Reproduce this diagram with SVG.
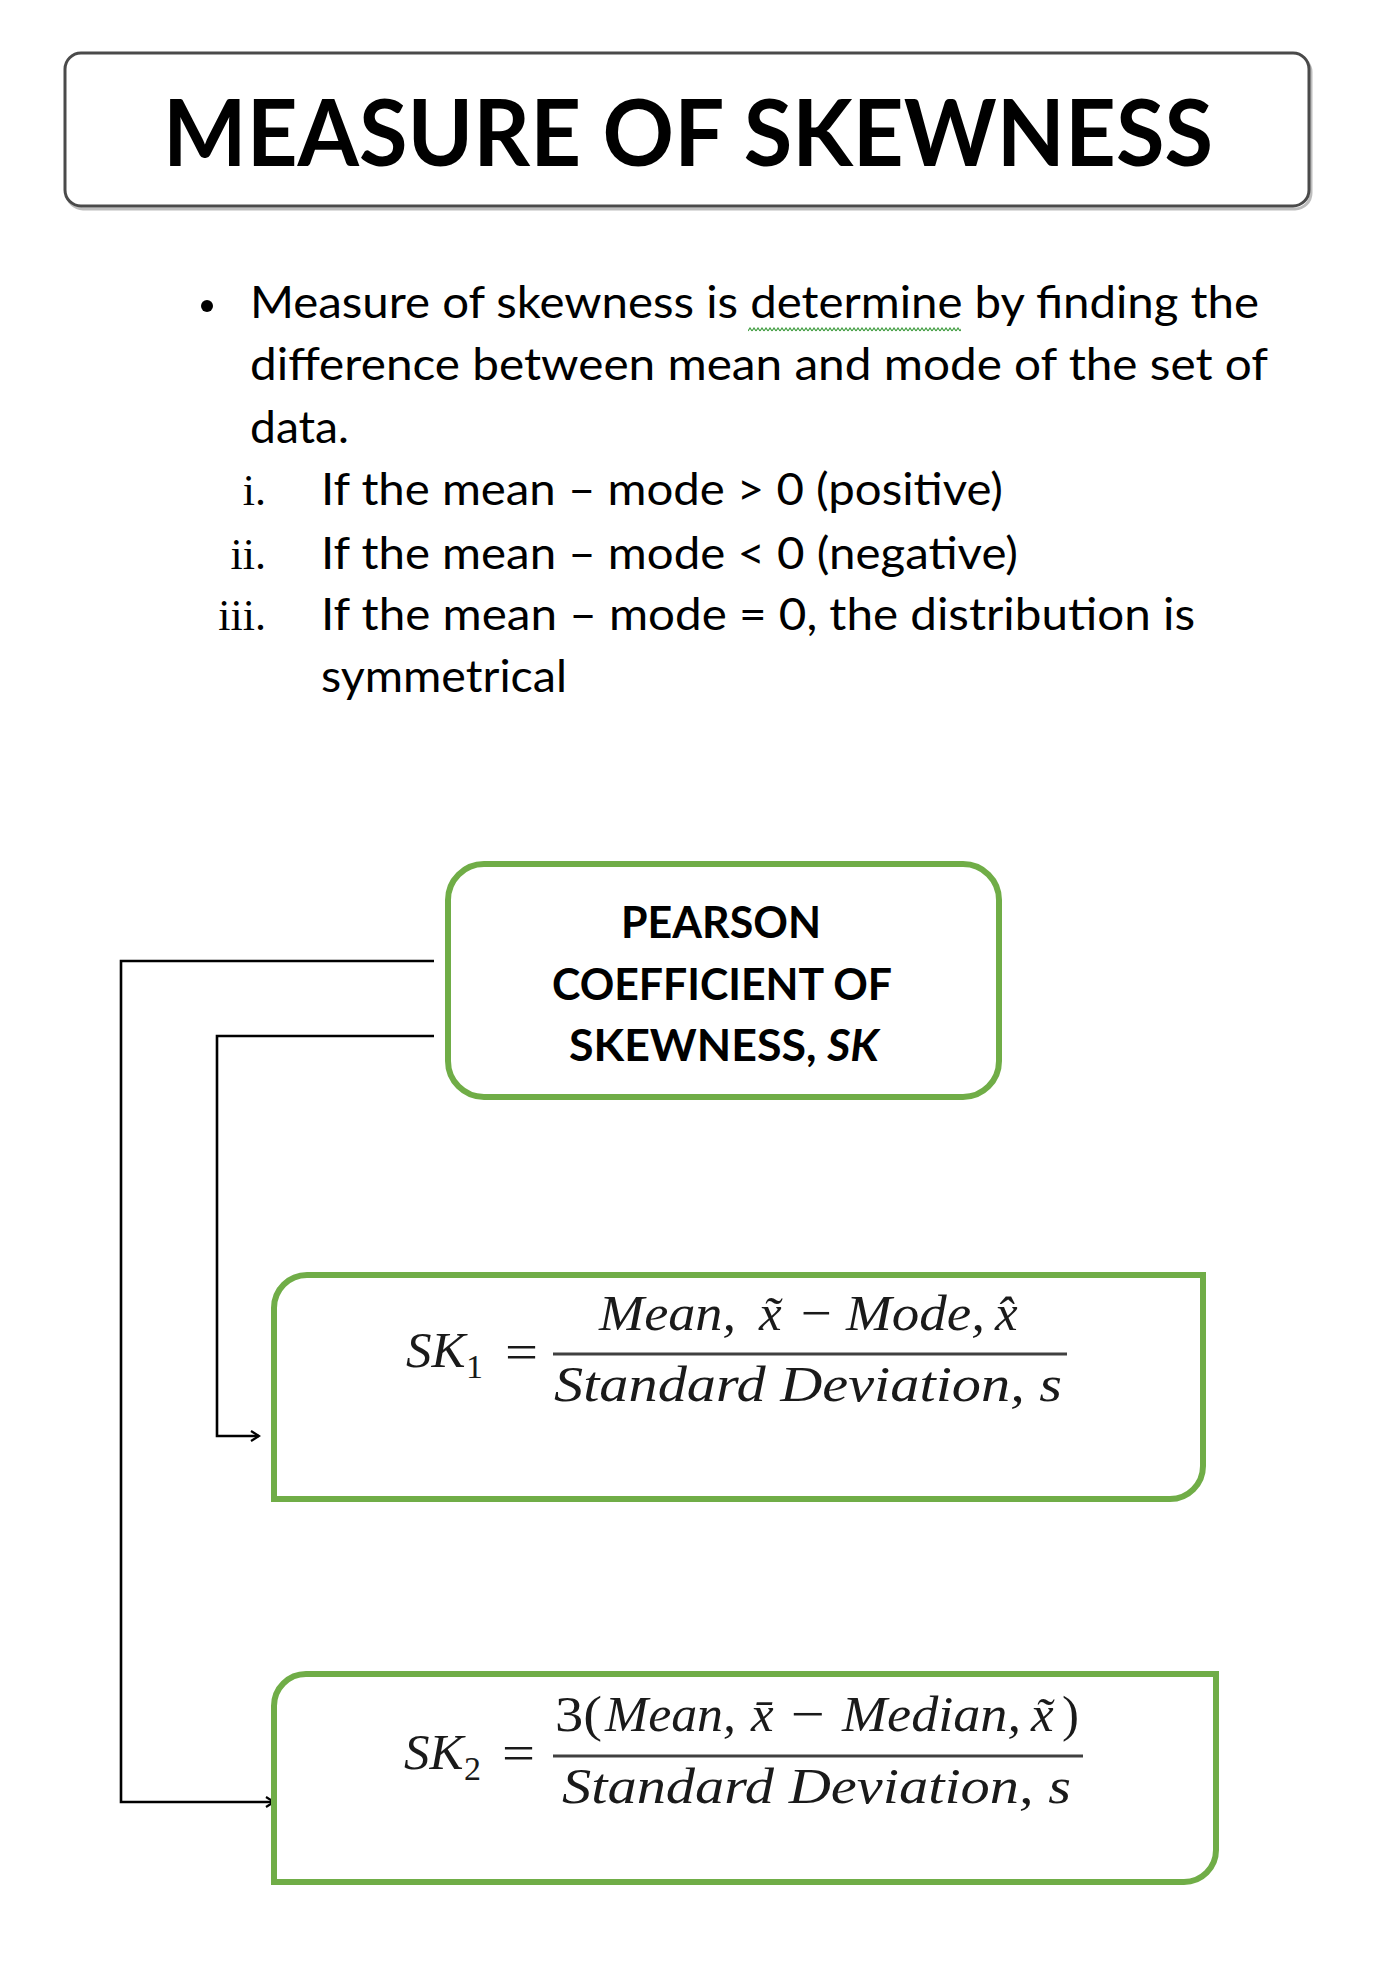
<svg xmlns="http://www.w3.org/2000/svg" width="1400" height="1968" viewBox="0 0 1400 1968">
<defs>
<style>
.body{font-family:Lato,"Open Sans","Liberation Sans",sans-serif;font-size:44px;fill:#000}
.rn{font-family:"Liberation Serif",serif;font-size:44px;fill:#000}
.title{font-family:Lato,"Open Sans","Liberation Sans",sans-serif;font-size:92px;font-weight:bold;fill:#000}
.ptxt{font-family:Lato,"Open Sans","Liberation Sans",sans-serif;font-size:43px;font-weight:bold;fill:#000}
.m{font-family:"Liberation Serif","DejaVu Serif",serif;font-size:51px;font-style:italic;fill:#1a1a1a}
.mu{font-family:"Liberation Serif","DejaVu Serif",serif;font-size:51px;font-style:normal;fill:#1a1a1a}
.sub{font-family:"Liberation Serif","DejaVu Serif",serif;font-size:34px;font-style:normal;fill:#1a1a1a}
.green{fill:#fff;stroke:#70AD47;stroke-width:6}
.conn{fill:none;stroke:#000;stroke-width:2.6}
.frac{stroke:#404040;stroke-width:3}
</style>
<marker id="arr" viewBox="0 0 14 14" refX="12" refY="7" markerWidth="14" markerHeight="14" markerUnits="userSpaceOnUse" orient="auto">
<path d="M4,2 L12,7 L4,12" fill="none" stroke="#000" stroke-width="2.2"/>
</marker>
<pattern id="squig" patternUnits="userSpaceOnUse" x="748" y="327" width="4" height="5">
<path d="M0,4 L2,1 L4,4" fill="none" stroke="#3c9a3c" stroke-width="1.2"/>
</pattern>
</defs>
<rect width="1400" height="1968" fill="#fff"/>

<g id="title">
<rect x="67" y="56" width="1244" height="153" rx="16" fill="none" stroke="#bdbdbd" stroke-width="3"/>
<rect x="65" y="53" width="1244" height="153" rx="16" fill="#fff" stroke="#4a4a4a" stroke-width="3"/>
<text class="title" x="163" y="166" textLength="1050" lengthAdjust="spacingAndGlyphs">MEASURE OF SKEWNESS</text>
</g>

<g id="description">
<circle cx="207" cy="306" r="6" fill="#000"/>
<text class="body" x="250" y="318" textLength="1009" lengthAdjust="spacingAndGlyphs">Measure of skewness is determine by finding the</text>
<rect x="748" y="327" width="213" height="5" fill="url(#squig)"/>
<text class="body" x="250" y="380" textLength="1018" lengthAdjust="spacingAndGlyphs">difference between  mean and mode of the set of</text>
<text class="body" x="250" y="443" textLength="99" lengthAdjust="spacingAndGlyphs">data.</text>
<text class="rn" x="266" y="505" text-anchor="end">i.</text>
<text class="body" x="321" y="505" textLength="682" lengthAdjust="spacingAndGlyphs">If the mean – mode &gt; 0 (positive)</text>
<text class="rn" x="266" y="569" text-anchor="end">ii.</text>
<text class="body" x="321" y="569" textLength="697" lengthAdjust="spacingAndGlyphs">If the mean – mode &lt; 0 (negative)</text>
<text class="rn" x="266" y="630" text-anchor="end">iii.</text>
<text class="body" x="321" y="630" textLength="874" lengthAdjust="spacingAndGlyphs">If the mean – mode = 0, the distribution  is</text>
<text class="body" x="321" y="692" textLength="246" lengthAdjust="spacingAndGlyphs">symmetrical</text>
</g>

<g id="connectors">
<path class="conn" d="M434,961 H121 V1802 H274" marker-end="url(#arr)"/>
<path class="conn" d="M434,1036 H217 V1436 H259" marker-end="url(#arr)"/>
</g>

<g id="pearson">
<rect class="green" x="448" y="864" width="551" height="233" rx="36" stroke-width="6.5"/>
<text class="ptxt" x="621" y="938" textLength="200" lengthAdjust="spacingAndGlyphs">PEARSON</text>
<text class="ptxt" x="552" y="1000" textLength="340" lengthAdjust="spacingAndGlyphs">COEFFICIENT OF</text>
<text class="ptxt" x="569" y="1061" textLength="310" lengthAdjust="spacingAndGlyphs">SKEWNESS, <tspan font-style="italic">SK</tspan></text>
</g>

<g id="sk1">
<path class="green" d="M274,1499 V1308 A33,33 0 0 1 307,1275 H1203 V1466 A33,33 0 0 1 1170,1499 Z"/>
<text class="m" x="406" y="1367">SK<tspan class="sub" x="466" y="1378">1</tspan></text>
<text class="mu" x="505" y="1369" textLength="33" lengthAdjust="spacingAndGlyphs">=</text>
<text class="m" x="599" y="1330" textLength="137" lengthAdjust="spacingAndGlyphs">Mean,</text>
<text class="m" x="759" y="1330">x&#x303;</text>
<text class="mu" x="801" y="1330" textLength="31" lengthAdjust="spacingAndGlyphs">−</text>
<text class="m" x="846" y="1330" textLength="139" lengthAdjust="spacingAndGlyphs">Mode,</text>
<text class="m" x="995" y="1330">x&#x302;</text>
<line class="frac" x1="553" y1="1354" x2="1067" y2="1354"/>
<text class="m" x="554" y="1401" textLength="508" lengthAdjust="spacingAndGlyphs">Standard Deviation,  s</text>
</g>

<g id="sk2">
<path class="green" d="M274,1882 V1706 A32,32 0 0 1 306,1674 H1216 V1850 A32,32 0 0 1 1184,1882 Z"/>
<text class="m" x="404" y="1769">SK<tspan class="sub" x="464" y="1780">2</tspan></text>
<text class="mu" x="502" y="1770" textLength="33" lengthAdjust="spacingAndGlyphs">=</text>
<text class="mu" x="555" y="1731" textLength="47" lengthAdjust="spacingAndGlyphs">3(</text>
<text class="m" x="605" y="1731" textLength="131" lengthAdjust="spacingAndGlyphs">Mean,</text>
<text class="m" x="751" y="1731">x&#x304;</text>
<text class="mu" x="791" y="1731" textLength="34" lengthAdjust="spacingAndGlyphs">−</text>
<text class="m" x="842" y="1731" textLength="179" lengthAdjust="spacingAndGlyphs">Median,</text>
<text class="m" x="1031" y="1731">x&#x303;<tspan class="mu" x="1062" y="1731">)</tspan></text>
<line class="frac" x1="553" y1="1756" x2="1083" y2="1756"/>
<text class="m" x="562" y="1803" textLength="509" lengthAdjust="spacingAndGlyphs">Standard Deviation,  s</text>
</g>
</svg>
